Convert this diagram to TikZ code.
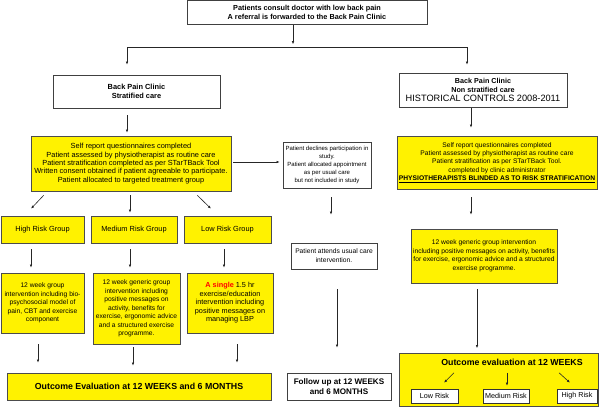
\documentclass[tikz,border=0pt]{standalone}
\usepackage{fontspec}
\setmainfont{Liberation Sans}
\usetikzlibrary{arrows.meta,calc,shadows}
\newcommand\fsz[2]{\fontsize{#1}{#2}\selectfont}

\begin{document}
\begin{tikzpicture}[x=1pt, y=-1pt,
    box/.style={draw=black!75, fill=white, line width=0.6pt, inner sep=0pt, align=center},
    ybox/.style={box, fill=yellow, draw=black!70,
      drop shadow={shadow xshift=0.9pt, shadow yshift=-0.9pt, fill=black!45, opacity=0.8}},
    tag/.style={box, line width=0.5pt, draw=black!80, minimum height=14pt, font=\fsz{7.2}{8}},
    arr/.style={-{Latex[length=3.2pt,width=2.6pt]}, line width=0.6pt, black!85}]
  \useasboundingbox (0,0) rectangle (600,407);

  \node[box, minimum width=240pt, minimum height=24pt, font=\bfseries\fsz{7.3}{8.7}] (top) at (307,12.5)
    {Patients consult doctor with low back pain\\A referral is forwarded to the Back Pain Clinic};

  \node[box, minimum width=167pt, minimum height=33pt, font=\bfseries\fsz{7.4}{9}] (bpc) at (136.5,91.5)
    {Back Pain Clinic\\Stratified care};
  \node[box, minimum width=168pt, minimum height=34pt, font=\bfseries\fsz{7.2}{9}] (hist) at (483,90)
    {Back Pain Clinic\\Non stratified care\\{\mdseries\fsz{9.2}{10}HISTORICAL CONTROLS 2008-2011}};

  \node[ybox, minimum width=200pt, minimum height=55pt, font=\fsz{7.4}{8.4}] (selfL) at (131,163.5)
    {Self report questionnaires completed\\Patient assessed by physiotherapist as routine care\\
     Patient stratification completed as per STarTBack Tool\\
     Written consent obtained if patient agreeable to participate.\\Patient allocated to targeted treatment group};
  \node[box, minimum width=88pt, minimum height=46pt, font=\fsz{6}{7.9}] (decline) at (327,165)
    {Patient declines participation in\\study.\\Patient allocated appointment\\as per usual care\\but not included in study};
  \node[ybox, minimum width=200pt, minimum height=53pt, font=\fsz{6.7}{8.3}] (selfR) at (497,162.5)
    {Self report questionnaires completed\\Patient assessed by physiotherapist as routine care\\
     Patient stratification as per STarTBack Tool.\\completed by clinic administrator\\
     \textbf{\underline{PHYSIOTHERAPISTS BLINDED AS TO RISK STRATIFICATION}}};

  \node[ybox, minimum width=83pt, minimum height=27pt, font=\fsz{7.4}{8}] (high) at (42.5,229.5) {High Risk Group};
  \node[ybox, minimum width=86pt, minimum height=27pt, font=\fsz{7.4}{8}] (medium) at (134,229.5) {Medium Risk Group};
  \node[ybox, minimum width=87pt, minimum height=27pt, font=\fsz{7.4}{8}] (low) at (227.5,229.5) {Low Risk Group};

  \node[ybox, minimum width=83pt, minimum height=60pt, font=\fsz{6.7}{8.5}] (highI) at (42.5,303)
    {12 week group\\intervention including bio-\\psychosocial model of\\pain, CBT and exercise\\component};
  \node[ybox, minimum width=87pt, minimum height=71pt, font=\fsz{6.7}{8.5}] (medI) at (136.5,308.5)
    {12 week generic group\\intervention including\\positive messages on\\activity, benefits for\\
     exercise, ergonomic advice\\and a structured exercise\\programme.};
  \node[ybox, minimum width=86pt, minimum height=60pt, font=\fsz{7.3}{8.5}] (lowI) at (230,303)
    {{\color{red}\bfseries A single} 1.5 hr\\exercise/education\\intervention including\\positive messages on\\managing LBP};

  \node[ybox, minimum width=264pt, minimum height=27pt, font=\bfseries\fsz{8.8}{10}] (outL) at (139,386.5)
    {Outcome Evaluation at 12 WEEKS and 6 MONTHS};

  \node[box, minimum width=86pt, minimum height=26pt, font=\fsz{6.7}{9}] (usual) at (334,256)
    {Patient attends usual care\\intervention.};
  \node[box, minimum width=104pt, minimum height=27pt, font=\bfseries\fsz{8.1}{10}] (follow) at (339,386.5)
    {Follow up at 12 WEEKS\\and 6 MONTHS};

  \node[ybox, minimum width=146pt, minimum height=54pt, font=\fsz{6.7}{8.5}] (genR) at (484,256)
    {12 week generic group intervention\\including positive messages on activity, benefits\\
     for exercise, ergonomic advice and a structured\\exercise programme.};
  \node[ybox, minimum width=199pt, minimum height=53pt] (outR) at (498.5,380) {};
  \node[font=\bfseries\fsz{8.8}{9}, inner sep=0pt] (outRt) at (512,362) {Outcome evaluation at 12 WEEKS};
  \node[tag, minimum width=47pt] (lowR) at (434.5,396) {Low Risk};
  \node[tag, minimum width=46pt] (medR) at (506,396) {Medium Risk};
  \node[tag, minimum width=40pt] (highR) at (577,396) {High Risk};

  \coordinate (jL) at (127,47);
  \coordinate (jR) at (467,47);
  \draw[arr] ($(top.south)+(-14,0)$) -- ($(top.south)+(-14,19.5)$);
  \draw[line width=0.6pt, black!85] (jL) -- (jR);
  \draw[arr] (jL) -- ($(bpc.north)+(-9.5,-10)$);
  \draw[arr] (jR) -- ($(hist.north)+(-16,-8)$);

  \draw[arr] ($(bpc.south)+(-9.5,7)$) -- ($(selfL.north)+(-4,-3)$);
  \draw[arr] ($(hist.south)+(-12,1)$) -- ($(selfR.north)+(-26,-8)$);
  \draw[arr] ($(selfL.east)+(2,-1.5)$) -- ($(decline.west)+(-3,-3)$);

  \draw[arr] ($(selfL.south west)+(13,4)$) -- ($(high.north)+(-11.5,-7)$);
  \draw[arr] ($(selfL.south)+(-1,4)$) -- ($(medium.north)+(-4,-3)$);
  \draw[arr] ($(selfL.south east)+(-34,4)$) -- ($(low.north)+(-16.5,-7)$);

  \draw[arr] ($(high.south)+(-11.5,6)$) -- ($(highI.north)+(-11.5,-5)$);
  \draw[arr] ($(medium.south)+(-4,6)$) -- ($(medI.north)+(-6.5,-5)$);
  \draw[arr] ($(low.south)+(-3.5,6)$) -- ($(lowI.north)+(-6,-5)$);

  \draw[arr] ($(highI.south)+(-4.5,11)$) -- ($(outL.north)+(-101,-10)$);
  \draw[arr] ($(medI.south)+(-3.5,3)$) -- ($(outL.north)+(-6,-7)$);
  \draw[arr] ($(lowI.south)+(7,11)$) -- ($(outL.north)+(98,-10)$);

  \draw[arr] ($(decline.south)+(4,9)$) -- ($(usual.north)+(-3,-28)$);
  \draw[arr] ($(usual.south)+(3,20)$) -- ($(follow.north)+(-2,-25)$);
  \draw[arr] ($(selfR.south)+(-26,8)$) -- ($(genR.north)+(-13,-14)$);
  \draw[arr] ($(genR.south)+(-7,6)$) -- ($(outR.north)+(-21.5,-5)$);

  \draw[arr] ($(lowR.north)+(19.5,-16)$) -- ($(lowR.north)+(9.5,-6)$);
  \draw[arr] ($(medR.north)+(1,-16)$) -- ($(medR.north)+(1,-3)$);
  \draw[arr] ($(highR.north)+(-18,-16)$) -- ($(highR.north)+(-7,-6)$);
\end{tikzpicture}
\end{document}
